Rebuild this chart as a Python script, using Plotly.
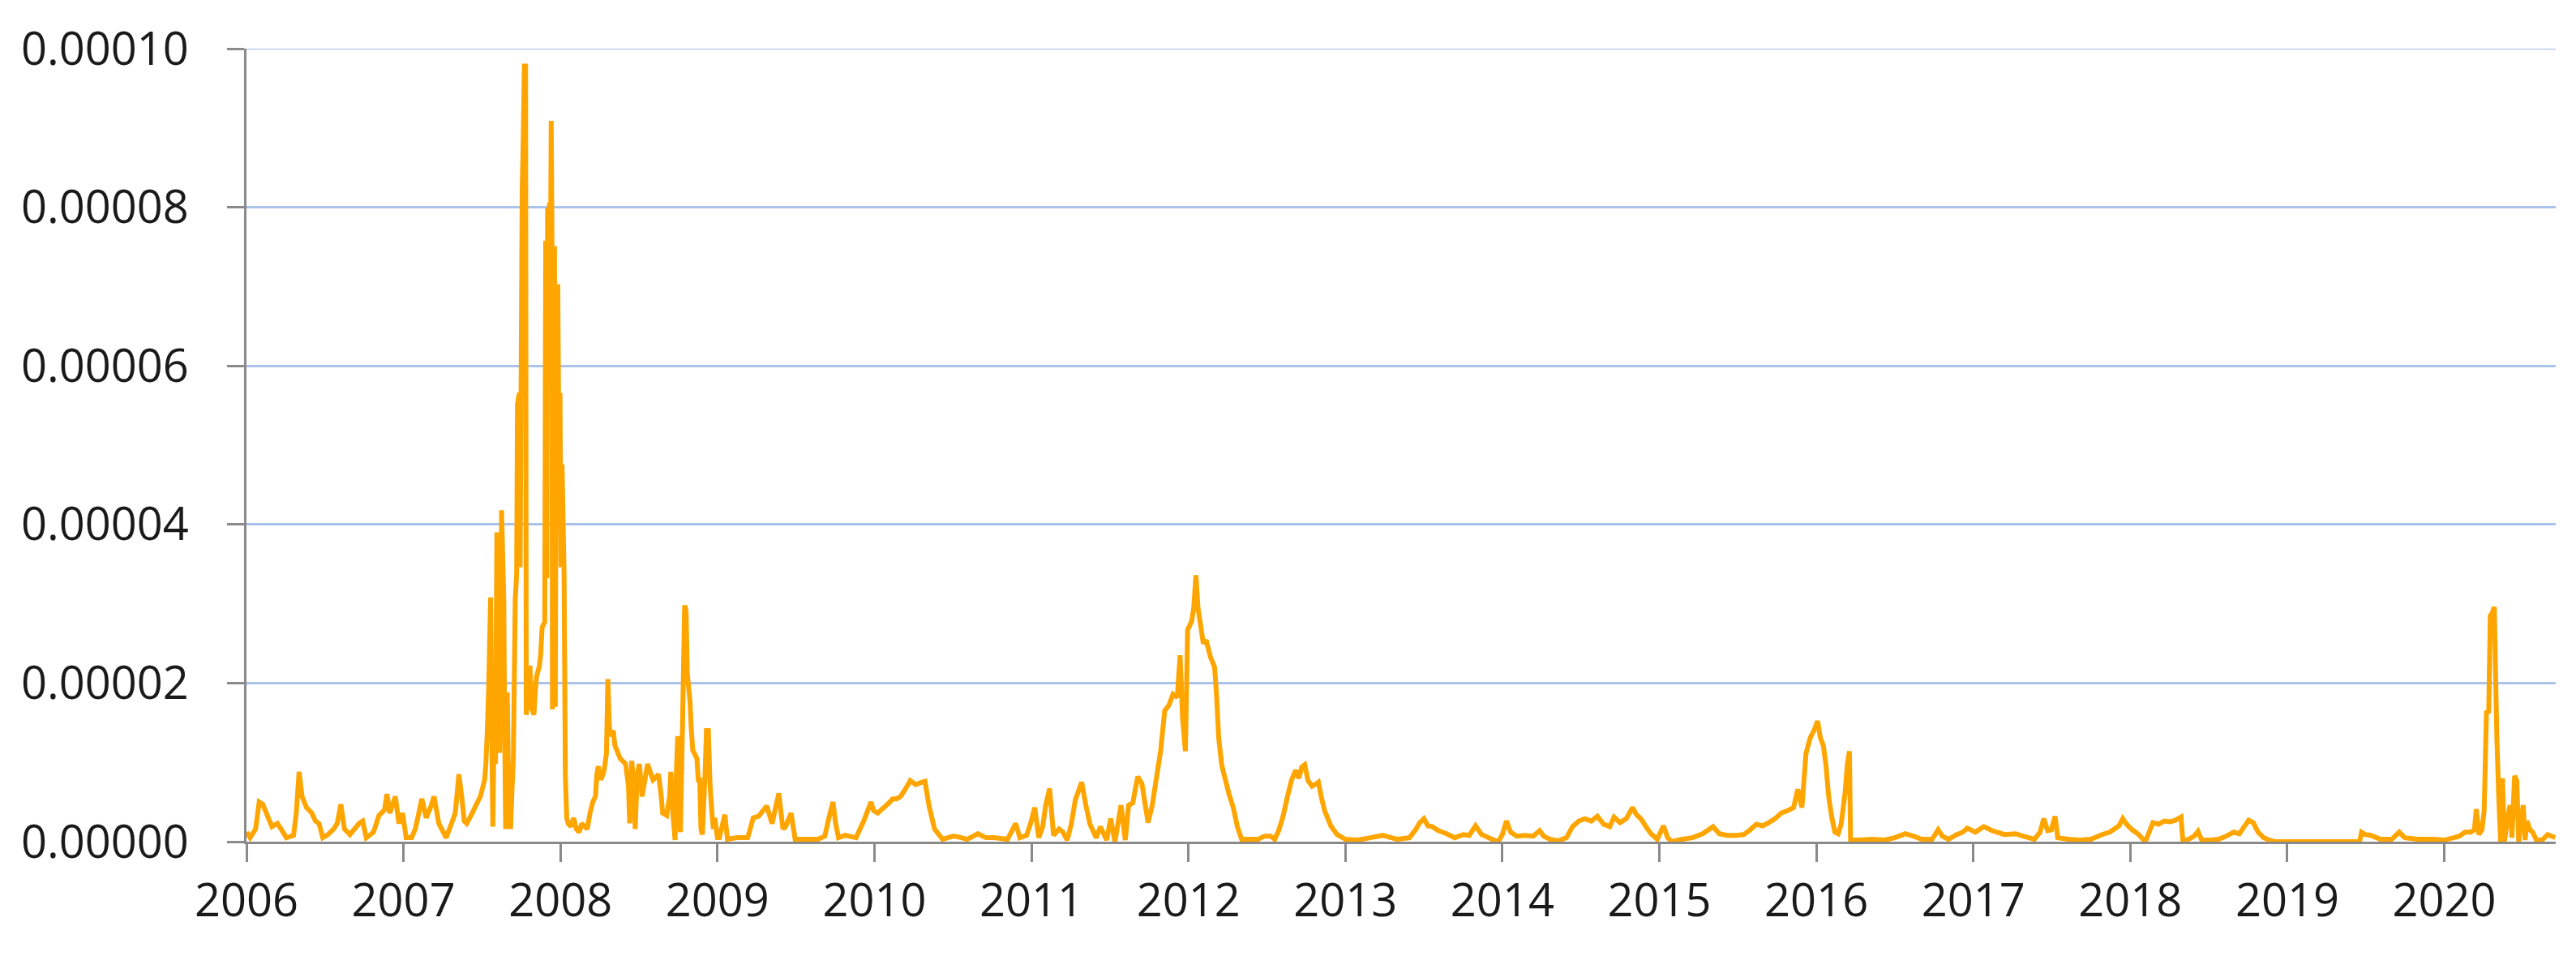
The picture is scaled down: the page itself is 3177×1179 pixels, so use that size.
import plotly.graph_objects as go

# Decimal-year positions of observations
years = [
    2006.00, 2006.023, 2006.058, 2006.081, 2006.104, 2006.139, 2006.162, 2006.197, 2006.220, 2006.254,
    2006.30, 2006.317, 2006.335, 2006.354, 2006.382, 2006.416, 2006.439, 2006.462, 2006.486, 2006.52,
    2006.555, 2006.578, 2006.601, 2006.624, 2006.659, 2006.717, 2006.74, 2006.763, 2006.809, 2006.844,
    2006.879, 2006.895, 2006.913, 2006.948, 2006.971, 2006.994, 2007.017, 2007.052, 2007.075, 2007.098,
    2007.117, 2007.145, 2007.172, 2007.195, 2007.225, 2007.272, 2007.306, 2007.33, 2007.353, 2007.371,
    2007.387, 2007.403, 2007.438, 2007.464, 2007.49, 2007.517, 2007.525, 2007.534, 2007.543, 2007.555,
    2007.562, 2007.569, 2007.578, 2007.586, 2007.595, 2007.604, 2007.613, 2007.625, 2007.632, 2007.639,
    2007.644, 2007.651, 2007.661, 2007.668, 2007.674, 2007.682, 2007.691, 2007.70, 2007.712, 2007.721,
    2007.726, 2007.738, 2007.743, 2007.749, 2007.756, 2007.762, 2007.77, 2007.778, 2007.782, 2007.792,
    2007.805, 2007.819, 2007.831, 2007.839, 2007.848, 2007.866, 2007.874, 2007.883, 2007.90, 2007.906,
    2007.913, 2007.918, 2007.923, 2007.93, 2007.935, 2007.941, 2007.946, 2007.949, 2007.955, 2007.962,
    2007.967, 2007.974, 2007.983, 2007.99, 2007.997, 2008.003, 2008.01, 2008.023, 2008.031, 2008.04,
    2008.049, 2008.066, 2008.084, 2008.101, 2008.119, 2008.136, 2008.154, 2008.171, 2008.188, 2008.206,
    2008.223, 2008.232, 2008.241, 2008.258, 2008.276, 2008.284, 2008.293, 2008.302, 2008.311, 2008.319,
    2008.337, 2008.346, 2008.38, 2008.415, 2008.433, 2008.441, 2008.454, 2008.468, 2008.476, 2008.489,
    2008.503, 2008.52, 2008.538, 2008.555, 2008.572, 2008.59, 2008.607, 2008.625, 2008.642, 2008.651,
    2008.677, 2008.695, 2008.703, 2008.716, 2008.73, 2008.738, 2008.747, 2008.756, 2008.764, 2008.778,
    2008.791, 2008.80, 2008.808, 2008.825, 2008.834, 2008.843, 2008.852, 2008.869, 2008.878, 2008.887,
    2008.895, 2008.904, 2008.913, 2008.921, 2008.93, 2008.942, 2008.953, 2008.965, 2008.974, 2008.983,
    2009.0, 2009.012, 2009.047, 2009.064, 2009.124, 2009.193, 2009.228, 2009.262, 2009.314, 2009.348,
    2009.391, 2009.417, 2009.434, 2009.469, 2009.495, 2009.572, 2009.641, 2009.684, 2009.71, 2009.736,
    2009.753, 2009.771, 2009.814, 2009.883, 2009.934, 2009.978, 2009.995, 2010.021, 2010.047, 2010.072,
    2010.098, 2010.116, 2010.141, 2010.167, 2010.193, 2010.228, 2010.262, 2010.288, 2010.322, 2010.348,
    2010.383, 2010.434, 2010.503, 2010.555, 2010.59, 2010.659, 2010.71, 2010.762, 2010.848, 2010.9,
    2010.926, 2010.969, 2010.995, 2011.021, 2011.047, 2011.072, 2011.09, 2011.116, 2011.141, 2011.176,
    2011.201, 2011.228, 2011.254, 2011.28, 2011.32, 2011.347, 2011.373, 2011.413, 2011.439, 2011.479,
    2011.505, 2011.532, 2011.571, 2011.598, 2011.619, 2011.646, 2011.677, 2011.704, 2011.743, 2011.77,
    2011.796, 2011.823, 2011.849, 2011.876, 2011.902, 2011.929, 2011.947, 2011.963, 2011.981, 2011.995,
    2012.021, 2012.034, 2012.048, 2012.061, 2012.074, 2012.095, 2012.114, 2012.14, 2012.167, 2012.18,
    2012.193, 2012.212, 2012.233, 2012.259, 2012.286, 2012.312, 2012.339, 2012.444, 2012.484, 2012.524,
    2012.55, 2012.577, 2012.603, 2012.63, 2012.656, 2012.683, 2012.704, 2012.722, 2012.741, 2012.762,
    2012.788, 2012.815, 2012.828, 2012.847, 2012.868, 2012.907, 2012.947, 2013.0, 2013.079, 2013.159,
    2013.238, 2013.329, 2013.408, 2013.447, 2013.474, 2013.5, 2013.526, 2013.553, 2013.592, 2013.645,
    2013.697, 2013.75, 2013.789, 2013.829, 2013.868, 2013.934, 2013.974, 2014.0, 2014.026, 2014.053,
    2014.092, 2014.145, 2014.197, 2014.237, 2014.263, 2014.303, 2014.355, 2014.408, 2014.447, 2014.487,
    2014.526, 2014.566, 2014.605, 2014.645, 2014.684, 2014.711, 2014.75, 2014.789, 2014.829, 2014.855,
    2014.882, 2014.921, 2014.947, 2014.987, 2015.026, 2015.053, 2015.079, 2015.145, 2015.211, 2015.276,
    2015.342, 2015.382, 2015.434, 2015.487, 2015.539, 2015.579, 2015.618, 2015.658, 2015.697, 2015.737,
    2015.776, 2015.816, 2015.855, 2015.882, 2015.908, 2015.934, 2015.961, 2015.987, 2016.008, 2016.026,
    2016.045, 2016.061, 2016.079, 2016.1, 2016.118, 2016.139, 2016.158, 2016.184, 2016.197, 2016.211,
    2016.218, 2016.276, 2016.355, 2016.434, 2016.5, 2016.566, 2016.618, 2016.671, 2016.737, 2016.776,
    2016.803, 2016.842, 2016.895, 2016.934, 2016.961, 2017.013, 2017.066, 2017.118, 2017.198, 2017.269,
    2017.317, 2017.389, 2017.425, 2017.449, 2017.473, 2017.497, 2017.521, 2017.538, 2017.605, 2017.677,
    2017.749, 2017.82, 2017.868, 2017.892, 2017.928, 2017.952, 2017.976, 2018.012, 2018.048, 2018.096,
    2018.12, 2018.144, 2018.18, 2018.216, 2018.251, 2018.287, 2018.323, 2018.335, 2018.371, 2018.407,
    2018.431, 2018.455, 2018.515, 2018.563, 2018.611, 2018.659, 2018.695, 2018.726, 2018.754, 2018.783,
    2018.814, 2018.85, 2018.886, 2018.922, 2019.461, 2019.473, 2019.497, 2019.533, 2019.593, 2019.665,
    2019.713, 2019.749, 2019.832, 2019.928, 2020.0, 2020.06, 2020.096, 2020.132, 2020.168, 2020.192,
    2020.204, 2020.22, 2020.24, 2020.254, 2020.269, 2020.283, 2020.293, 2020.305, 2020.319, 2020.328,
    2020.335, 2020.347, 2020.359, 2020.371, 2020.383, 2020.403, 2020.419, 2020.431, 2020.448, 2020.462,
    2020.474, 2020.491, 2020.503, 2020.515, 2020.527, 2020.546, 2020.563, 2020.587, 2020.623, 2020.659,
    2020.683, 2020.707,
]

# Values in units of 1e-5
values_e5 = [
    0.12, 0.05, 0.16, 0.50, 0.47, 0.30, 0.19, 0.23, 0.16, 0.05,
    0.08, 0.36, 0.88, 0.57, 0.43, 0.36, 0.26, 0.23, 0.05, 0.09,
    0.16, 0.23, 0.47, 0.16, 0.09, 0.23, 0.26, 0.05, 0.12, 0.33,
    0.40, 0.60, 0.36, 0.57, 0.23, 0.36, 0.05, 0.05, 0.16, 0.36,
    0.54, 0.30, 0.43, 0.57, 0.23, 0.05, 0.23, 0.36, 0.85, 0.57,
    0.26, 0.23, 0.36, 0.47, 0.57, 0.78, 0.98, 1.40, 1.95, 3.08,
    1.53, 0.19, 1.53, 0.98, 3.90, 1.95, 1.12, 4.18, 3.60, 3.05,
    1.53, 0.16, 1.88, 0.85, 0.36, 0.16, 0.64, 1.05, 3.05, 3.39,
    5.52, 5.66, 3.46, 5.66, 8.20, 8.75, 9.78, 9.78, 1.60, 1.74,
    2.22, 1.67, 1.60, 1.88, 2.08, 2.22, 2.36, 2.70, 2.77, 7.58,
    3.32, 7.99, 6.76, 8.06, 6.69, 9.09, 7.58, 1.67, 7.03, 7.51,
    1.70, 6.62, 7.03, 4.97, 5.66, 3.46, 4.76, 3.39, 0.85, 0.30,
    0.23, 0.19, 0.30, 0.16, 0.12, 0.23, 0.19, 0.16, 0.36, 0.50,
    0.57, 0.85, 0.95, 0.78, 0.88, 0.98, 1.12, 2.05, 1.46, 1.33,
    1.40, 1.22, 1.05, 0.98, 0.71, 0.23, 1.02, 0.71, 0.16, 0.85,
    0.98, 0.57, 0.78, 0.98, 0.88, 0.78, 0.81, 0.85, 0.57, 0.36,
    0.33, 0.57, 0.88, 0.36, 0.02, 0.85, 1.33, 0.50, 0.12, 1.53,
    2.98, 2.91, 2.12, 1.77, 1.40, 1.15, 1.12, 1.05, 0.78, 0.78,
    0.16, 0.09, 0.50, 0.85, 1.40, 1.40, 0.71, 0.36, 0.16, 0.30,
    0.05, 0.05, 0.34, 0.03, 0.05, 0.05, 0.30, 0.32, 0.45, 0.23,
    0.61, 0.16, 0.19, 0.36, 0.03, 0.03, 0.03, 0.07, 0.30, 0.50,
    0.23, 0.05, 0.08, 0.05, 0.27, 0.50, 0.39, 0.36, 0.41, 0.45,
    0.50, 0.54, 0.54, 0.57, 0.65, 0.77, 0.72, 0.74, 0.76, 0.45,
    0.16, 0.03, 0.07, 0.05, 0.03, 0.10, 0.05, 0.05, 0.03, 0.23,
    0.05, 0.08, 0.23, 0.43, 0.05, 0.19, 0.45, 0.67, 0.08, 0.16,
    0.12, 0.02, 0.22, 0.53, 0.75, 0.46, 0.22, 0.05, 0.19, 0.02,
    0.29, 0.00, 0.46, 0.02, 0.46, 0.49, 0.82, 0.73, 0.24, 0.46,
    0.80, 1.14, 1.65, 1.72, 1.86, 1.82, 2.35, 1.55, 1.14, 2.67,
    2.78, 2.95, 3.36, 2.95, 2.78, 2.50, 2.54, 2.33, 2.20, 1.82,
    1.31, 0.97, 0.80, 0.60, 0.43, 0.19, 0.03, 0.03, 0.07, 0.07,
    0.03, 0.15, 0.32, 0.56, 0.77, 0.90, 0.80, 0.94, 0.97, 0.77,
    0.70, 0.73, 0.75, 0.56, 0.39, 0.20, 0.09, 0.03, 0.02, 0.05,
    0.08, 0.03, 0.05, 0.15, 0.24, 0.29, 0.20, 0.19, 0.14, 0.10,
    0.05, 0.09, 0.08, 0.20, 0.09, 0.03, 0.00, 0.09, 0.26, 0.12,
    0.07, 0.08, 0.07, 0.14, 0.07, 0.03, 0.01, 0.05, 0.19, 0.26,
    0.29, 0.26, 0.32, 0.22, 0.19, 0.31, 0.24, 0.29, 0.43, 0.34,
    0.29, 0.17, 0.10, 0.03, 0.20, 0.05, 0.00, 0.03, 0.05, 0.10,
    0.19, 0.10, 0.08, 0.08, 0.09, 0.15, 0.22, 0.20, 0.24, 0.29,
    0.36, 0.39, 0.43, 0.66, 0.43, 1.11, 1.31, 1.41, 1.52, 1.31,
    1.21, 0.97, 0.56, 0.29, 0.12, 0.10, 0.22, 0.63, 0.97, 1.14,
    0.02, 0.02, 0.03, 0.02, 0.05, 0.10, 0.07, 0.03, 0.03, 0.15,
    0.07, 0.03, 0.09, 0.12, 0.17, 0.12, 0.19, 0.14, 0.09, 0.10,
    0.07, 0.03, 0.12, 0.29, 0.14, 0.15, 0.32, 0.05, 0.03, 0.02,
    0.03, 0.09, 0.12, 0.15, 0.20, 0.29, 0.22, 0.15, 0.10, 0.00,
    0.12, 0.24, 0.22, 0.26, 0.25, 0.27, 0.31, 0.01, 0.03, 0.07,
    0.13, 0.02, 0.02, 0.03, 0.07, 0.12, 0.10, 0.19, 0.27, 0.24,
    0.12, 0.05, 0.02, 0.00, 0.00, 0.12, 0.09, 0.08, 0.03, 0.03,
    0.12, 0.05, 0.03, 0.03, 0.02, 0.05, 0.07, 0.12, 0.12, 0.15,
    0.41, 0.09, 0.15, 0.39, 1.65, 1.62, 2.85, 2.88, 2.96, 1.99,
    1.31, 0.56, 0.00, 0.80, 0.00, 0.29, 0.46, 0.05, 0.83, 0.77,
    0.00, 0.29, 0.46, 0.02, 0.26, 0.15, 0.12, 0.02, 0.02, 0.09,
    0.07, 0.05,
]

values = [v * 1e-5 for v in values_e5]

tick_years = list(range(2006, 2021))
tick_labels = [str(y) for y in tick_years]
y_ticks = [0, 0.00002, 0.00004, 0.00006, 0.00008, 0.00010]
y_labels = ["0.00000", "0.00002", "0.00004", "0.00006", "0.00008", "0.00010"]

grid_col = "#a9c3ea"
axis_col = "#8a8a8a"
font = dict(family="Open Sans", size=56, color="#1a1a1a")

fig = go.Figure()
fig.add_trace(go.Scatter(
    x=years, y=values, mode="lines",
    line=dict(color="#FFA500", width=6, simplify=False),
    showlegend=False,
))

# top gridline at the upper range edge (plotly skips gridlines on the edge)
fig.add_shape(type="line", xref="paper", yref="y", x0=0, x1=1,
              y0=y_ticks[-1], y1=y_ticks[-1],
              line=dict(color=grid_col, width=2.5), layer="below")

fig.update_layout(
    width=3177, height=1179,
    margin=dict(l=296, r=33, t=46, b=149),
    paper_bgcolor="white", plot_bgcolor="white",
    font=font,
    xaxis=dict(
        range=[2006, 2020.71], tickvals=tick_years, ticktext=tick_labels,
        showgrid=False, zeroline=False,
        showline=True, linecolor=axis_col, linewidth=3,
        ticks="outside", ticklen=22, tickwidth=3, tickcolor=axis_col,
        tickfont=font,
    ),
    yaxis=dict(
        range=[0, 0.0001], tickvals=y_ticks, ticktext=y_labels,
        showgrid=True, gridcolor=grid_col, gridwidth=2.5,
        zeroline=False,
        showline=True, linecolor=axis_col, linewidth=3,
        ticks="outside", ticklen=21, tickwidth=3, tickcolor=axis_col,
        ticklabelstandoff=36,
        tickfont=font,
    ),
)

fig.write_html("out.html")
